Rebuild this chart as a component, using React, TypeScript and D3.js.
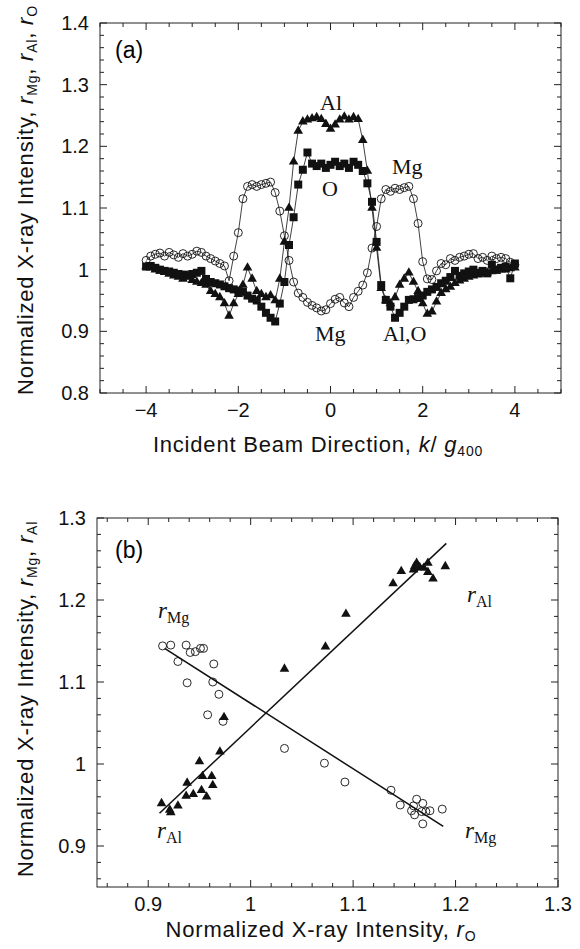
import React from 'react';
import * as d3 from 'd3';

// panel (a): normalized intensities vs incident beam direction k/g400
const kValues = d3.range(-40, 41).map(i => i / 10);

const mgA = [
  1.015, 1.022, 1.025, 1.027, 1.022, 1.028, 1.024, 1.020, 1.026, 1.022,
  1.025, 1.030, 1.028, 1.022, 1.018, 1.014, 1.010, 1.006, 0.982, 1.022,
  1.060, 1.115, 1.135, 1.138, 1.135, 1.138, 1.140, 1.142, 1.125, 1.095,
  1.055, 1.015, 0.980, 0.962, 0.955, 0.947, 0.942, 0.938, 0.933, 0.935,
  0.945, 0.952, 0.955, 0.946, 0.940, 0.955, 0.965, 0.975, 0.995, 1.035,
  1.070, 1.115, 1.130, 1.127, 1.132, 1.130, 1.133, 1.135, 1.115, 1.075,
  1.013, 0.985, 0.984, 0.998, 1.010, 1.008, 1.018, 1.015, 1.020, 1.022,
  1.025, 1.026, 1.018, 1.020, 1.015, 1.022, 1.018, 1.020, 1.018, 1.012,
  1.008,
];

const alA = [
  1.005, 1.003, 1.000, 0.998, 0.996, 0.993, 0.990, 0.988, 0.985, 0.990,
  0.983, 0.980, 0.978, 0.975, 0.965, 0.960, 0.955, 0.945, 0.925, 0.945,
  0.960, 0.975, 1.003, 0.985, 0.965, 0.960, 0.955, 0.958, 0.950, 0.985,
  1.045, 1.100, 1.175, 1.225, 1.240, 1.243, 1.245, 1.247, 1.244, 1.236,
  1.228, 1.235, 1.243, 1.248, 1.243, 1.247, 1.244, 1.210, 1.160, 1.100,
  1.035, 0.970, 0.950, 0.945, 0.955, 0.975, 0.985, 0.995, 0.980, 0.965,
  0.945, 0.928, 0.932, 0.948, 0.962, 0.968, 0.972, 0.978, 0.982, 0.985,
  0.988, 0.990, 0.992, 0.993, 0.995, 0.997, 0.998, 1.000, 1.000, 1.002,
  1.003,
];

const oA = [
  1.005, 1.006, 1.003, 1.000, 0.998, 0.997, 0.995, 0.993, 0.992, 0.990,
  0.993, 0.995, 0.998, 0.985, 0.980, 0.978, 0.976, 0.973, 0.970, 0.968,
  0.966, 0.964, 0.958, 0.953, 0.950, 0.940, 0.930, 0.922, 0.916, 0.945,
  0.980, 1.040, 1.085, 1.138, 1.162, 1.190, 1.172, 1.168, 1.172, 1.165,
  1.170, 1.175, 1.168, 1.172, 1.165, 1.175, 1.170, 1.160, 1.140, 1.110,
  1.045, 0.975, 0.951, 0.940, 0.922, 0.930, 0.940, 0.951, 0.952, 0.954,
  0.958, 0.964, 0.968, 0.972, 0.978, 0.982, 0.988, 0.998, 0.990, 0.994,
  0.997, 1.000, 0.995, 0.998, 0.994, 1.008, 1.000, 1.003, 1.005, 0.986,
  1.010,
];

// panel (b): r_Al and r_Mg plotted against r_O
const triRO = [0.913, 0.921, 0.922, 0.929, 0.937, 0.938, 0.944, 0.950, 0.953, 0.952, 0.957, 0.962, 0.963, 0.970, 0.974, 1.033, 1.073, 1.093, 1.139, 1.147, 1.159, 1.162, 1.165, 1.169, 1.173, 1.173, 1.178, 1.190, 1.160];
const triRAl = [0.952, 0.944, 0.941, 0.949, 0.961, 0.977, 0.963, 1.003, 0.985, 0.968, 0.960, 0.985, 0.974, 1.015, 1.057, 1.116, 1.143, 1.183, 1.220, 1.235, 1.237, 1.245, 1.240, 1.239, 1.245, 1.234, 1.226, 1.241, 1.241];
const circRO = [0.914, 0.922, 0.937, 0.941, 0.946, 0.951, 0.954, 0.929, 0.964, 0.938, 0.963, 0.969, 0.958, 0.973, 1.033, 1.072, 1.092, 1.137, 1.146, 1.162, 1.168, 1.159, 1.157, 1.160, 1.167, 1.171, 1.175, 1.168, 1.187];
const circRMg = [1.144, 1.145, 1.145, 1.136, 1.137, 1.141, 1.141, 1.125, 1.122, 1.099, 1.100, 1.085, 1.060, 1.052, 1.019, 1.001, 0.978, 0.968, 0.950, 0.957, 0.952, 0.949, 0.943, 0.938, 0.942, 0.942, 0.943, 0.927, 0.945];
const fitAl: [number, number][] = [[0.911, 0.940], [1.191, 1.269]];
const fitMg: [number, number][] = [[0.916, 1.141], [1.188, 0.924]];

const sans = 'Liberation Sans, Arial, sans-serif';
const serif = 'Liberation Serif, Times New Roman, serif';

const steps = (lo: number, hi: number, step: number) =>
  d3.range(Math.round(lo / step), Math.round(hi / step) + 1).map(i => +(i * step).toFixed(4));

const fmt = (v: number) => String(+v.toFixed(2)).replace('-', '\u2212');

function Frame({ x, y, xMinor, xMajor, yMinor, yMajor }: any) {
  const [x0, x1] = x.range();
  const [y0, y1] = y.range(); // y0 bottom, y1 top
  const minorLen = 4;
  const majorLen = 7;
  return (
    <g stroke="#222" strokeWidth={1} fill="none">
      <rect x={x0} y={y1} width={x1 - x0} height={y0 - y1} />
      {xMinor.map((v: number) => {
        const len = xMajor.includes(v) ? majorLen : minorLen;
        return (
          <g key={'x' + v}>
            <line x1={x(v)} x2={x(v)} y1={y0} y2={y0 - len} />
            <line x1={x(v)} x2={x(v)} y1={y1} y2={y1 + len} />
          </g>
        );
      })}
      {yMinor.map((v: number) => {
        const len = yMajor.includes(v) ? majorLen : minorLen;
        return (
          <g key={'y' + v}>
            <line x1={x0} x2={x0 + len} y1={y(v)} y2={y(v)} />
            <line x1={x1} x2={x1 - len} y1={y(v)} y2={y(v)} />
          </g>
        );
      })}
      <g stroke="none" fill="#111" fontFamily={sans} fontSize={20}>
        {xMajor.map((v: number) => (
          <text key={'xl' + v} x={x(v)} y={y0 + 24} textAnchor="middle">{fmt(v)}</text>
        ))}
        {yMajor.map((v: number) => (
          <text key={'yl' + v} x={x0 - 11} y={y(v) + 7} textAnchor="end">{fmt(v)}</text>
        ))}
      </g>
    </g>
  );
}

export default function App() {
  // panel (a)
  const xa = d3.scaleLinear().domain([-5, 5]).range([100, 561]);
  const ya = d3.scaleLinear().domain([0.8, 1.4]).range([393, 23]);
  // panel (b)
  const xb = d3.scaleLinear().domain([0.85, 1.3]).range([97, 558]);
  const yb = d3.scaleLinear().domain([0.85, 1.3]).range([887, 518]);

  const lineA = d3.line<number>().x((_, i) => xa(kValues[i])).y(d => ya(d));
  const tri = d3.symbol(d3.symbolTriangle, 40)();
  const sq = d3.symbol(d3.symbolSquare, 64)();
  const triB = d3.symbol(d3.symbolTriangle, 40)();

  const series = [
    { vals: alA, mark: 'tri' },
    { vals: oA, mark: 'sq' },
    { vals: mgA, mark: 'circ' },
  ];

  const title = { fontFamily: sans, fontSize: 22, fill: '#111', letterSpacing: 0.8 };

  return (
    <svg width={580} height={949} style={{ position: 'absolute', left: 0, top: 0, background: '#fff' }}>
      {/* ---------- panel (a) ---------- */}
      <Frame x={xa} y={ya} xMinor={steps(-5, 5, 0.5)} xMajor={[-4, -2, 0, 2, 4]}
        yMinor={steps(0.8, 1.4, 0.02)} yMajor={steps(0.8, 1.4, 0.1)} />
      {series.map(s => (
        <g key={s.mark}>
          <path d={lineA(s.vals) || ''} fill="none" stroke="#111" strokeWidth={0.8} />
          {s.vals.map((v, i) => {
            const cx = xa(kValues[i]);
            const cy = ya(v);
            if (s.mark === 'circ')
              return <circle key={i} cx={cx} cy={cy} r={4} fill="none" stroke="#111" strokeWidth={0.9} />;
            return <path key={i} d={s.mark === 'tri' ? tri! : sq!} transform={`translate(${cx},${cy})`} fill="#111" />;
          })}
        </g>
      ))}
      <text x={115} y={58} fontFamily={sans} fontSize={23}>(a)</text>
      <g fontFamily={serif} fontSize={22} fill="#111">
        <text x={320} y={110}>Al</text>
        <text x={322} y={196}>O</text>
        <text x={392} y={174}>Mg</text>
        <text x={315} y={341}>Mg</text>
        <text x={383} y={341}>Al,O</text>
      </g>
      <text transform="translate(33,200) rotate(-90)" textAnchor="middle" {...title}>
        Normalized X-ray Intensity, <tspan fontStyle="italic">r</tspan><tspan fontSize={14} dy={4}>Mg</tspan>
        <tspan dy={-4}>, </tspan><tspan fontStyle="italic">r</tspan><tspan fontSize={14} dy={4}>Al</tspan>
        <tspan dy={-4}>, </tspan><tspan fontStyle="italic">r</tspan><tspan fontSize={14} dy={4}>O</tspan>
      </text>
      <text x={318} y={452} textAnchor="middle" {...title}>
        Incident Beam Direction, <tspan fontStyle="italic">k</tspan>/ <tspan fontStyle="italic">g</tspan>
        <tspan fontSize={14} dy={4}>400</tspan>
      </text>

      {/* ---------- panel (b) ---------- */}
      <Frame x={xb} y={yb} xMinor={steps(0.86, 1.3, 0.02)} xMajor={steps(0.9, 1.3, 0.1)}
        yMinor={steps(0.86, 1.3, 0.02)} yMajor={steps(0.9, 1.3, 0.1)} />
      {[fitAl, fitMg].map((f, i) => (
        <line key={i} x1={xb(f[0][0])} y1={yb(f[0][1])} x2={xb(f[1][0])} y2={yb(f[1][1])} stroke="#111" strokeWidth={1.5} />
      ))}
      {circRO.map((v, i) => (
        <circle key={'c' + i} cx={xb(v)} cy={yb(circRMg[i])} r={4} fill="none" stroke="#111" strokeWidth={0.9} />
      ))}
      {triRO.map((v, i) => (
        <path key={'t' + i} d={triB!} transform={`translate(${xb(v)},${yb(triRAl[i])})`} fill="#111" />
      ))}
      <text x={115} y={558} fontFamily={sans} fontSize={23}>(b)</text>
      <g fontFamily={serif} fill="#111">
        <text x={158} y={618} fontSize={23}><tspan fontStyle="italic">r</tspan><tspan fontSize={16} dy={5}>Mg</tspan></text>
        <text x={467} y={602} fontSize={23}><tspan fontStyle="italic">r</tspan><tspan fontSize={16} dy={5}>Al</tspan></text>
        <text x={157} y={838} fontSize={23}><tspan fontStyle="italic">r</tspan><tspan fontSize={16} dy={5}>Al</tspan></text>
        <text x={465} y={838} fontSize={23}><tspan fontStyle="italic">r</tspan><tspan fontSize={16} dy={5}>Mg</tspan></text>
      </g>
      <text transform="translate(33,699) rotate(-90)" textAnchor="middle" {...title}>
        Normalized X-ray Intensity, <tspan fontStyle="italic">r</tspan><tspan fontSize={14} dy={4}>Mg</tspan>
        <tspan dy={-4}>, </tspan><tspan fontStyle="italic">r</tspan><tspan fontSize={14} dy={4}>Al</tspan>
      </text>
      <text x={321} y={937} textAnchor="middle" {...title}>
        Normalized X-ray Intensity, <tspan fontStyle="italic">r</tspan><tspan fontSize={14} dy={4}>O</tspan>
      </text>
    </svg>
  );
}
